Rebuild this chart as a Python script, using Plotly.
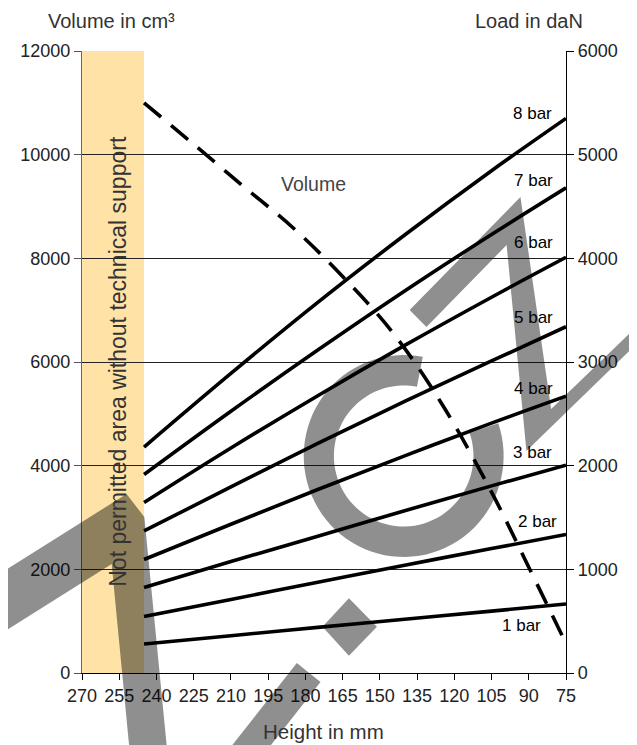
import math
import plotly.graph_objects as go

# ---------------- data ----------------
heights = [245, 210, 175, 140, 105, 75]          # mm
load_1bar = [280, 360, 440, 518, 597, 665]        # daN
load_2bar = [545, 710, 875, 1040, 1200, 1337]
load_3bar = [825, 1075, 1320, 1565, 1805, 2005]
load_4bar = [1095, 1435, 1770, 2095, 2410, 2670]
load_5bar = [1370, 1795, 2215, 2620, 3010, 3340]
load_6bar = [1645, 2170, 2675, 3160, 3625, 4010]
load_7bar = [1915, 2525, 3115, 3685, 4230, 4680]
load_8bar = [2180, 2890, 3575, 4225, 4845, 5350]
bar_names = ["1 bar", "2 bar", "3 bar", "4 bar", "5 bar", "6 bar", "7 bar", "8 bar"]

volume_heights = [245, 225, 205, 185, 165, 145, 125, 105, 90, 75]   # mm
volume_cm3 = [11000, 10200, 9390, 8590, 7650, 6580, 5190, 3490, 2040, 570]

x_ticks = [270, 255, 240, 225, 210, 195, 180, 165, 150, 135, 120, 105, 90, 75]
band_limits = [270, 245]   # not permitted zone (mm)

# ---------------- layout constants ----------------
OFF = 8                      # page body margin
W, H = 637 - OFF, 745 - OFF
ML, MR, MT, MB = 77 - OFF, 71, 51 - OFF, 72
PW, PH = W - ML - MR, H - MT - MB
FONT = "Liberation Sans, Arial, sans-serif"


def px(x):   # page pixel -> paper
    return (x - OFF - ML) / PW


def py(y):
    return (H + OFF - MB - y) / PH


fig = go.Figure()

loads = [load_1bar, load_2bar, load_3bar, load_4bar,
         load_5bar, load_6bar, load_7bar, load_8bar]
for name, ld in zip(bar_names, loads):
    fig.add_trace(go.Scatter(x=heights, y=ld, yaxis="y2", mode="lines", name=name,
                             line=dict(color="black", width=3.6, shape="spline"),
                             showlegend=False, hoverinfo="skip"))

fig.add_trace(go.Scatter(x=volume_heights, y=volume_cm3, yaxis="y", mode="lines",
                         name="Volume",
                         line=dict(color="black", width=3.6, dash="22px,13px", shape="spline"),
                         showlegend=False, hoverinfo="skip"))

shapes = [dict(type="rect", xref="x", yref="paper", x0=band_limits[0], x1=band_limits[1],
               y0=0, y1=1, fillcolor="#FEE2A6", line=dict(width=0), layer="between")]

# ---- watermark (decorative, pixel geometry) ----
def poly(points):
    s = "M " + " L ".join(f"{px(a):.4f},{py(b):.4f}" for a, b in points) + " Z"
    return dict(type="path", xref="paper", yref="paper", path=s,
                fillcolor="black", opacity=0.44, line=dict(width=0), layer="above")

shapes.append(poly([(-10, 576), (122, 494), (140, 517), (164, 760), (126, 760),
                    (107, 564), (-10, 637)]))
shapes.append(poly([(294, 663), (318, 682), (256, 760), (217, 760)]))
shapes.append(poly([(346.7, 598.3), (375, 626.7), (346.7, 655.7), (320, 626.7)]))
shapes.append(poly([(408, 310), (520, 197), (551, 409), (660, 305), (660, 322),
                    (526, 451), (506, 245), (425, 327)]))
cx, cy, R, r = 402, 456, 101, 70.5
outer = [(cx + R * math.cos(math.radians(a)), cy - R * math.sin(math.radians(a)))
         for a in range(79, 380, 4)]
inner = [(cx + r * math.cos(math.radians(a)), cy - r * math.sin(math.radians(a)))
         for a in range(379, 78, -4)]
shapes.append(poly(outer + inner))

annotations = []
label_pos = {  # (right edge mm, daN) for the pressure labels
    "8 bar": (79.7, 5400), "7 bar": (79.5, 4754), "6 bar": (79.5, 4156),
    "5 bar": (79.5, 3433), "4 bar": (79.5, 2748), "3 bar": (79.7, 2131),
    "2 bar": (77.9, 1466), "1 bar": (84.3, 463),
}
for name in bar_names:
    xx, yy = label_pos[name]
    annotations.append(dict(x=xx, y=yy, xref="x", yref="y2", text=name, showarrow=False,
                            xanchor="right", yanchor="middle",
                            font=dict(family=FONT, size=17, color="black")))

annotations.append(dict(x=176.6, y=9434, xref="x", yref="y", text="Volume", showarrow=False,
                        xanchor="center", yanchor="middle",
                        font=dict(family=FONT, size=19.5, color="#444")))
annotations.append(dict(x=255.6, y=py(361), xref="x", yref="paper",
                        text="Not permitted area without technical support",
                        textangle=-90, showarrow=False, xanchor="center", yanchor="middle",
                        font=dict(family=FONT, size=23, color="#333")))
annotations.append(dict(x=px(41), y=py(8), xref="paper", yref="paper", text="Volume in cm³",
                        showarrow=False, xanchor="left", yanchor="top",
                        font=dict(family=FONT, size=20, color="#333")))
annotations.append(dict(x=px(585), y=py(8), xref="paper", yref="paper", text="Load in daN",
                        showarrow=False, xanchor="right", yanchor="top",
                        font=dict(family=FONT, size=20, color="#333")))
annotations.append(dict(x=px(321), y=py(731), xref="paper", yref="paper", text="Height in mm",
                        showarrow=False, xanchor="center", yanchor="middle",
                        font=dict(family=FONT, size=20.5, color="#333")))

tickfont = dict(family=FONT, size=18, color="#222")
fig.update_layout(
    width=W, height=H,
    margin=dict(l=ML, r=MR, t=MT, b=MB, pad=0),
    paper_bgcolor="white", plot_bgcolor="white",
    showlegend=False,
    xaxis=dict(range=[270, 75], tickvals=x_ticks, ticks="outside", ticklen=6,
               tickcolor="black", showline=True, linecolor="black", linewidth=1.2,
               showgrid=False, zeroline=False, tickfont=tickfont, fixedrange=True),
    yaxis=dict(range=[0, 12000], dtick=2000, tickformat="d", ticks="outside", ticklen=7,
               tickcolor="#555", showline=True, linecolor="#666", linewidth=1.2,
               showgrid=True, gridcolor="#222", gridwidth=1, zeroline=False,
               tickfont=tickfont),
    yaxis2=dict(range=[0, 6000], dtick=1000, tickformat="d", ticks="outside", ticklen=7,
                tickcolor="black", showline=True, linecolor="black", linewidth=1.2,
                overlaying="y", side="right", showgrid=False, zeroline=False,
                tickfont=tickfont),
    shapes=shapes,
    annotations=annotations,
)

fig.write_html("out.html")
